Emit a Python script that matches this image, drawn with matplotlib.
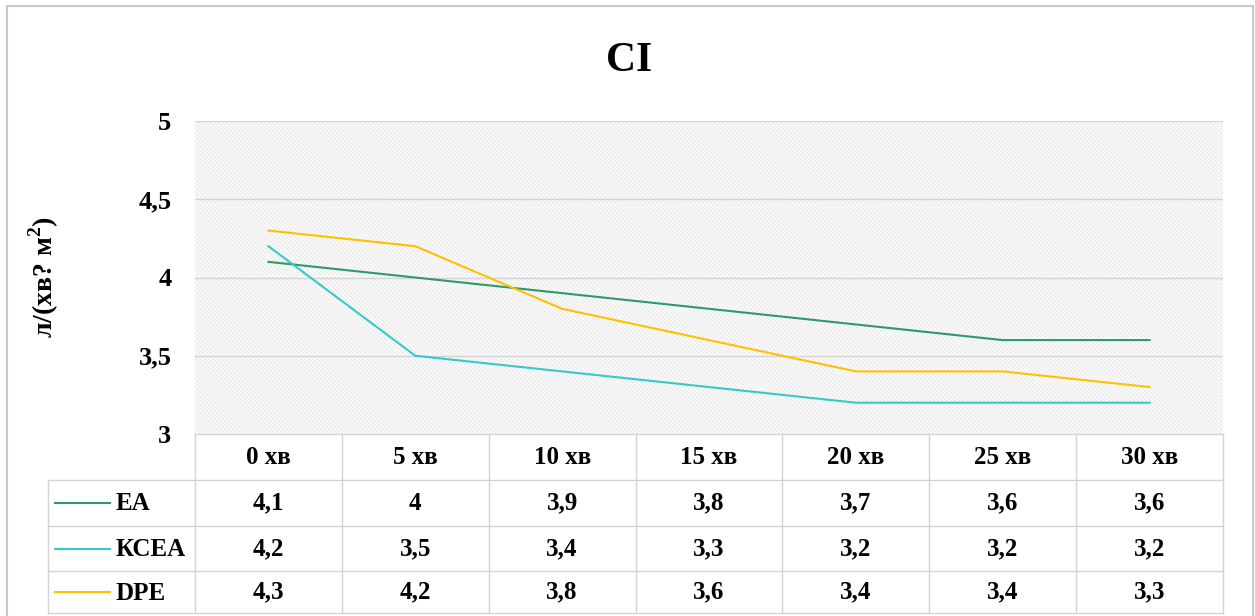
import numpy as np
import matplotlib
matplotlib.use('Agg')
import matplotlib.pyplot as plt
from matplotlib.lines import Line2D
from matplotlib.patches import Rectangle

###############################################################################
# data

times = ['0 хв', '5 хв', '10 хв', '15 хв', '20 хв', '25 хв', '30 хв']
series_names = ['EA', 'КСЕА', 'DPE']
ea = [4.1, 4.0, 3.9, 3.8, 3.7, 3.6, 3.6]
ksea = [4.2, 3.5, 3.4, 3.3, 3.2, 3.2, 3.2]
dpe = [4.3, 4.2, 3.8, 3.6, 3.4, 3.4, 3.3]
yticks = [3, 3.5, 4, 4.5, 5]

colors = ['#2e9a68', '#36c9c9', '#ffc000']

###############################################################################
plt.rcParams['font.family'] = ['Liberation Serif', 'DejaVu Serif']
plt.rcParams['font.weight'] = 'bold'
plt.rcParams['mathtext.fontset'] = 'custom'
plt.rcParams['mathtext.rm'] = 'Liberation Serif:bold'
plt.rcParams['mathtext.bf'] = 'Liberation Serif:bold'
plt.rcParams['hatch.color'] = '#ececec'
plt.rcParams['hatch.linewidth'] = 1.2

W, H = 1255, 616
fig = plt.figure(figsize=(W / 100, H / 100), dpi=100)

def fx(px):
     return px / W

def fy(py):
     return 1 - py / H

grid_c = '#d4d4d4'

# outer frame
fig.add_artist(Rectangle((fx(7), fy(640)), fx(1253 - 7), fy(6) - fy(640),
                         transform=fig.transFigure, fill=False,
                         edgecolor='#c8c8c8', linewidth=1.5))

left, right, top, bottom = 195, 1223, 121, 434
ax = fig.add_axes([fx(left), fy(bottom), fx(right - left), fy(top) - fy(bottom)])

x = np.arange(len(times))
ax.set_xlim(-0.5, len(times) - 0.5)
ax.set_ylim(3, 5)

ax.add_patch(Rectangle((0, 0), 1, 1, transform=ax.transAxes, facecolor='white',
                       hatch='\\\\\\\\\\\\\\\\', edgecolor='#ececec',
                       linewidth=0, zorder=0))

for v in yticks[1:]:
     ax.axhline(v, color=grid_c, linewidth=1.0, zorder=1)

for vals, c in zip([ea, ksea, dpe], colors):
     ax.plot(x, vals, color=c, linewidth=1.5, zorder=3)

for s in ax.spines.values():
     s.set_visible(False)
ax.set_xticks([])
ax.set_yticks(yticks)
ax.set_yticklabels([str(v).replace('.', ',').replace(',0', '') for v in yticks])
ax.tick_params(axis='y', length=0, pad=17, labelsize=19)

fig.text(fx(629), fy(61), 'CI', ha='center', va='center', fontsize=30, fontweight='bold')
fig.text(fx(44), fy(277), 'л/(хв? м$^{2}$)', ha='center', va='center',
         rotation=90, fontsize=20, fontweight='bold')

###############################################################################
# data table under the axes

col_edges = [ax.transData.transform((i - 0.5, 3))[0] for i in range(len(times) + 1)]
col_edges = [fig.transFigure.inverted().transform((c, 0))[0] for c in col_edges]
row_edges = [434, 480, 526, 571, 613]
leg_left = 48

def hline(x0, x1, y):
     fig.add_artist(Line2D([x0, x1], [fy(y), fy(y)], color=grid_c, linewidth=1.0))

def vline(xf, y0, y1):
     fig.add_artist(Line2D([xf, xf], [fy(y0), fy(y1)], color=grid_c, linewidth=1.0))

hline(col_edges[0], col_edges[-1], row_edges[0])
for y in row_edges[1:]:
     hline(fx(leg_left), col_edges[-1], y)
for i, c in enumerate(col_edges):
     vline(c, row_edges[0], row_edges[-1])
vline(fx(leg_left), row_edges[1], row_edges[-1])

for i, t in enumerate(times):
     cx = (col_edges[i] + col_edges[i + 1]) / 2
     ymid = (row_edges[0] + row_edges[1]) / 2
     fig.text(cx, fy(ymid), t, ha='center', va='center', fontsize=18)

for r, (name, vals, c) in enumerate(zip(series_names, [ea, ksea, dpe], colors)):
     ymid = (row_edges[r + 1] + row_edges[r + 2]) / 2
     fig.add_artist(Line2D([fx(55), fx(110)], [fy(ymid), fy(ymid)], color=c, linewidth=1.5))
     fig.text(fx(116), fy(ymid + 1), name, ha='left', va='center', fontsize=18)
     for i, v in enumerate(vals):
          cx = (col_edges[i] + col_edges[i + 1]) / 2
          lab = ('%g' % v).replace('.', ',')
          fig.text(cx, fy(ymid), lab, ha='center', va='center', fontsize=18)

fig.savefig('out.png', dpi=100)
